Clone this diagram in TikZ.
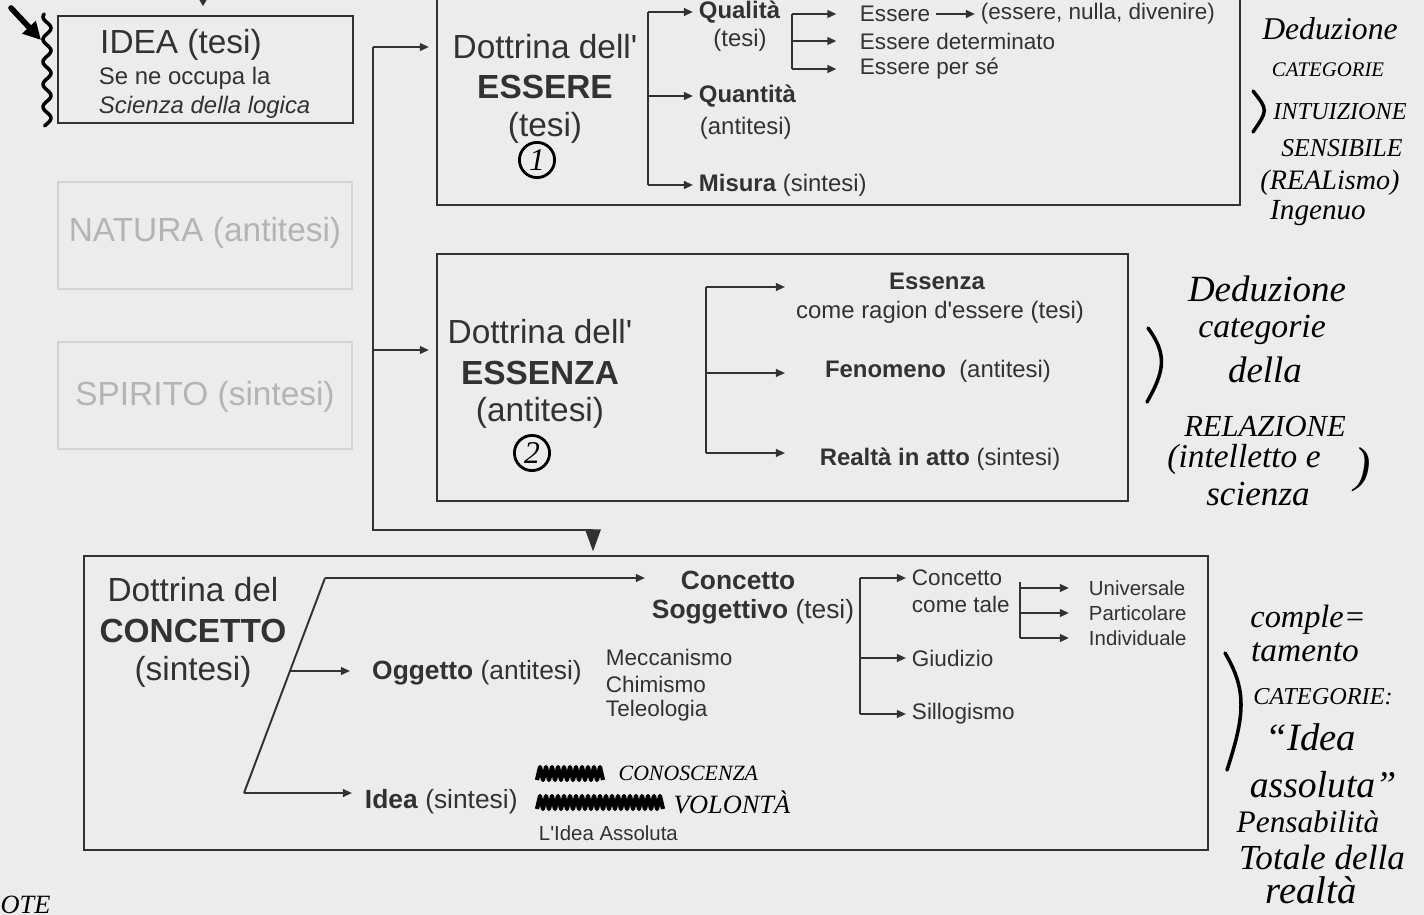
\documentclass[tikz,border=0pt]{standalone}
\usepackage{fontspec}
\setmainfont{Liberation Sans}
\newfontfamily\handfont{Liberation Serif}
\usetikzlibrary{arrows.meta, fit}
\definecolor{paper}{RGB}{236,236,236}
\definecolor{ink}{RGB}{50,50,50}
\definecolor{faded}{RGB}{180,180,180}
\definecolor{fadedline}{RGB}{212,212,212}
\newcommand{\apo}{\textquotesingle}
\tikzset{
    box/.style={draw=ink, line width=0.6pt, inner sep=0pt},
    ghostbox/.style={draw=fadedline, line width=0.5pt, inner sep=0pt},
    conn/.style={draw=ink, line width=0.55pt},
    arr/.style={conn, -{Triangle[length=2.6pt,width=2.2pt]}},
    bigarr/.style={conn, -{Triangle[length=6.3pt,width=4.4pt]}},
    ttl/.style={text=ink, inner sep=1pt, font=\fontsize{9.5}{11}\selectfont},
    ttlb/.style={ttl, font=\fontsize{9.5}{11}\selectfont\bfseries},
    ghost/.style={text=faded, inner sep=1pt, font=\fontsize{9.5}{11}\selectfont},
    lbl/.style={text=ink, inner sep=1.5pt, font=\fontsize{6.8}{8}\selectfont},
    lblb/.style={lbl, font=\fontsize{6.8}{8}\selectfont\bfseries},
    lblm/.style={text=ink, inner sep=1.5pt, font=\fontsize{7.5}{9}\selectfont},
    lblmb/.style={lblm, font=\fontsize{7.5}{9}\selectfont\bfseries},
    tny/.style={text=ink, inner sep=1.5pt, font=\fontsize{6.4}{7.5}\selectfont},
    sml/.style={text=ink, inner sep=1.5pt, font=\fontsize{5.8}{7}\selectfont},
    hand/.style={text=black, inner sep=0pt, font=\handfont\itshape\fontsize{#1}{#1}\selectfont},
    handline/.style={draw=black, line width=1pt, line cap=round},
    handarr/.style={handline, line width=1.6pt, -{Triangle[length=5pt,width=5pt]}},
    numc/.style={circle, draw=black, line width=0.8pt, inner sep=0pt, minimum size=10pt, font=\handfont\itshape\fontsize{9}{9}\selectfont},
    scrib/.style={draw=black, line width=1.2pt, line join=round},
}
\begin{document}
\begin{tikzpicture}[x=0.01cm, y=-0.01cm]
    \useasboundingbox (0,0) rectangle (1424,915);
    \fill[paper] (0,0) rectangle (1424,915);

    \node[box, fit={(58,16) (353,123)}] (idea) {};
    \node[ttl, anchor=west] (ideat) at (96,45) {IDEA (tesi)};
    \node[lbl, anchor=west] (idea2) at (93,78) {Se ne occupa la};
    \node[lbl, anchor=west] (idea3) at (93,107) {\itshape Scienza della logica};
    \node[ghostbox, fit={(58,182) (352,289)}] (natura) {};
    \node[ghost] (naturat) at (205,233) {NATURA (antitesi)};
    \node[ghostbox, fit={(58,342) (352,449)}] (spirito) {};
    \node[ghost] (spiritot) at (205,397) {SPIRITO (sintesi)};

    \draw[handline] plot[domain=14:126, samples=80] ({47+4*sin(\x*16)}, \x);
    \coordinate (hs) at (11,8);
    \coordinate (he) at (41,40);
    \draw[handarr] (hs) -- (he);
    \coordinate (ideain) at (203,-30);
    \draw[conn, -{Triangle[length=3.5pt,width=4pt]}, shorten >=2.5pt] (ideain) -- (idea.north -| ideain);

    \node[box, fit={(437,-20) (1240,205)}] (essere) {};
    \node[box, fit={(437,254) (1128,501)}] (essenza) {};
    \node[box, fit={(84,556) (1208,850)}] (concetto) {};

    \coordinate (t1) at (373,47);
    \coordinate (t2) at (373,350);
    \coordinate (t3) at (373,530);
    \coordinate (t4) at (593,530);
    \draw[arr, shorten >=2pt] (t1) -- (essere.west |- t1);
    \draw[arr, shorten >=2pt] (t2) -- (essenza.west |- t2);
    \draw[bigarr, shorten >=1pt] (t1) -- (t3) -- (t4) -- (concetto.north -| t4);

    \node[ttl] (ess1) at (545,47) {Dottrina dell\apo};
    \node[ttlb] (ess2) at (545,87) {ESSERE};
    \node[ttl] (ess3) at (545,128) {(tesi)};
    \node[numc] (num1) at (537,160) {1};

    \node[lblb, anchor=west] (qual) at (693,12) {Qualità};
    \node[lbl] (qualt) at (740,40) {(tesi)};
    \node[lblb, anchor=west] (quan) at (693,96) {Quantità};
    \node[lbl, anchor=west] (quant) at (694,128) {(antitesi)};
    \node[lbl, anchor=west] (mis) at (693,185) {\textbf{Misura} (sintesi)};
    \coordinate (a0) at (648,12);
    \draw[conn] (a0) -- (mis.west -| a0);
    \foreach \n in {qual,quan,mis} {
        \draw[arr] (\n.west -| a0) -- (\n.west);
    }

    \node[tny, anchor=west] (es1) at (854,14) {Essere};
    \node[tny, anchor=west] (es1b) at (975,14) {(essere, nulla, divenire)};
    \node[tny, anchor=west] (es2) at (854,41) {Essere determinato};
    \node[tny, anchor=west] (es3) at (854,69) {Essere per sé};
    \coordinate (b0) at (792,14);
    \draw[conn] (b0) -- (es3.west -| b0);
    \foreach \n in {es1,es2,es3} {
        \draw[arr, shorten >=5pt] (\n.west -| b0) -- (\n.west);
    }
    \draw[arr] (es1) -- (es1b);

    \node[ttl] (enz1) at (540,332) {Dottrina dell\apo};
    \node[ttlb] (enz2) at (540,373) {ESSENZA};
    \node[ttl] (enz3) at (540,413) {(antitesi)};
    \node[numc] (num2) at (532,453) {2};

    \node[lblb] (enza) at (937,281) {Essenza};
    \node[lbl] (enzb) at (940,312) {come ragion d\apo essere (tesi)};
    \node[lbl] (feno) at (938,371) {\textbf{Fenomeno}\ \ (antitesi)};
    \node[lbl] (real) at (940,459) {\textbf{Realtà in atto} (sintesi)};
    \foreach \i\y in {1/287, 2/373, 3/453} {
        \coordinate (cs\i) at (706,\y);
        \coordinate (ce\i) at (785,\y);
        \draw[arr] (cs\i) -- (ce\i);
    }
    \draw[conn] (cs1) -- (cs3);

    \node[ttl] (con1) at (193,590) {Dottrina del};
    \node[ttlb] (con2) at (193,631) {CONCETTO};
    \node[ttl] (con3) at (193,672) {(sintesi)};

    \coordinate (s1) at (325,578);
    \coordinate (s2) at (290,671);
    \coordinate (s3) at (244,793);
    \coordinate (e1) at (645,578);
    \coordinate (e2) at (350,671);
    \coordinate (e3) at (352,793);
    \draw[conn] (s1) -- (s3);
    \foreach \i in {1,2,3} {
        \draw[arr] (s\i) -- (e\i);
    }

    \node[lblmb] (cs1t) at (738,580) {Concetto};
    \node[lblm] (cs2t) at (753,612) {\textbf{Soggettivo} (tesi)};
    \node[lblm] (ogg) at (477,673) {\textbf{Oggetto} (antitesi)};
    \node[tny, anchor=west] (mec) at (600,657) {Meccanismo};
    \node[tny, anchor=west] (chi) at (600,684) {Chimismo};
    \node[tny, anchor=west] (tel) at (600,711) {Teleologia};
    \node[lblm, anchor=west] (ide) at (359,802) {\textbf{Idea} (sintesi)};
    \node[sml, anchor=west] (ass) at (533,833) {L\apo Idea Assoluta};

    \draw[scrib] (537,780) \foreach \k in {1,...,11} { -- ++(3,-13) -- ++(3,13) };
    \draw[scrib] (537,809) \foreach \k in {1,...,21} { -- ++(3,-13) -- ++(3,13) };
    \node[hand=6.2, anchor=west] (cono) at (618,773) {CONOSCENZA};
    \node[hand=7.5, anchor=west] (volo) at (673,802) {VOLONTÀ};

    \node[tny, anchor=west] (ct1) at (906,578) {Concetto};
    \node[tny, anchor=west] (ct2) at (906,604) {come tale};
    \node[tny, anchor=west] (giu) at (906,658) {Giudizio};
    \node[tny, anchor=west] (sil) at (906,714) {Sillogismo};
    \coordinate (d0) at (860,578);
    \draw[conn] (d0) -- (sil.west -| d0);
    \foreach \n in {ct1,giu,sil} {
        \draw[arr] (\n.west -| d0) -- (\n.west);
    }

    \node[sml, anchor=west] (uni) at (1083,588) {Universale};
    \node[sml, anchor=west] (par) at (1083,613) {Particolare};
    \node[sml, anchor=west] (ind) at (1083,638) {Individuale};
    \coordinate (f0) at (1020,582);
    \draw[conn] (f0) -- (ind.west -| f0);
    \foreach \n in {uni,par,ind} {
        \draw[arr, shorten >=4pt] (\n.west -| f0) -- (\n.west);
    }

    \foreach \t/\x/\y/\s [count=\i] in {Deduzione/1330/29/9, CATEGORIE/1328/70/5.9, INTUIZIONE/1340/112/6.9,
        SENSIBILE/1342/148/7.3, {(REALismo)}/1330/183/8, Ingenuo/1318/213/8.3} {
        \node[hand=\s] (ha\i) at (\x,\y) {\t};
    }
    \draw[handline] (1253,91) .. controls (1268,110) .. (1253,132);

    \foreach \t/\x/\y/\s [count=\i] in {Deduzione/1267/289/10.5, categorie/1262/330/9.6, della/1265/370/10.5,
        RELAZIONE/1265/427/8.7, {(intelletto e}/1244/459/9.5, scienza/1258/494/10} {
        \node[hand=\s] (hb\i) at (\x,\y) {\t};
    }
    \node[hand=14] (hbx) at (1363,470) {)};
    \draw[handline] (1148,328) .. controls (1168,355) and (1164,372) .. (1147,402);

    \foreach \t/\x/\y/\s [count=\i] in {comple=/1308/620/9.2, tamento/1305/652/9.5, CATEGORIE:/1323/697/6.9,
        “Idea/1311/737/11, assoluta”/1323/785/10.7, Pensabilità/1308/822/8.9, Totale della/1322/857/10, realtà/1311/890/11} {
        \node[hand=\s] (hc\i) at (\x,\y) {\t};
    }
    \draw[handline] (1225,653) .. controls (1247,690) and (1245,715) .. (1227,770);

    \node[hand=7.5, anchor=west] (note) at (0,905) {OTE};
\end{tikzpicture}
\end{document}
